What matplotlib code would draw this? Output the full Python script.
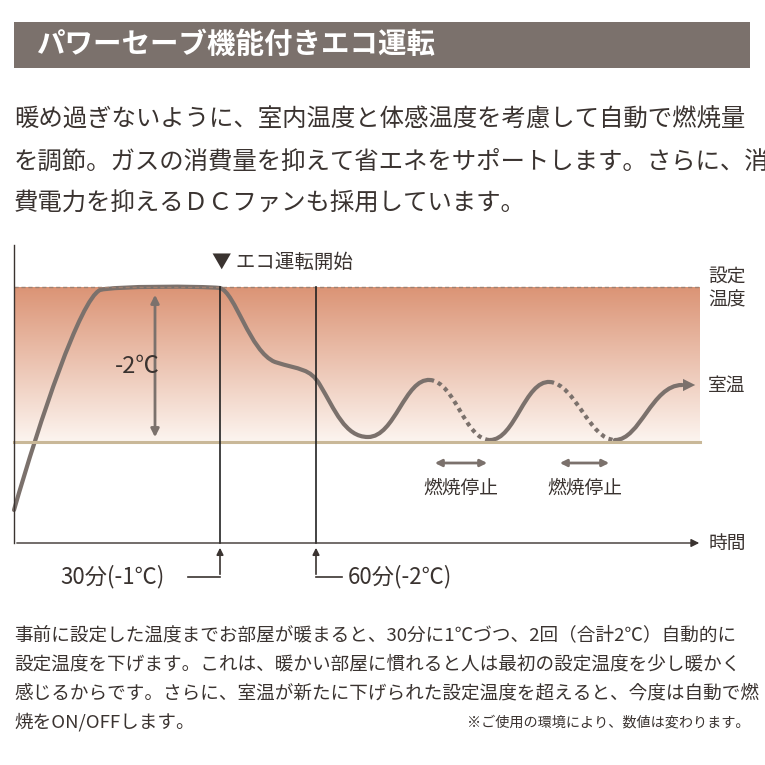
import matplotlib
matplotlib.use("Agg")
import matplotlib.pyplot as plt
from matplotlib.path import Path
from matplotlib.patches import PathPatch, FancyArrowPatch, Rectangle
import numpy as np

plt.rcParams["font.family"] = "Noto Sans CJK JP"

title = "パワーセーブ機能付きエコ運転"
para = ["暖め過ぎないように、室内温度と体感温度を考慮して自動で燃焼量",
        "を調節。ガスの消費量を抑えて省エネをサポートします。さらに、消",
        "費電力を抑えるＤＣファンも採用しています。"]
foot = ["事前に設定した温度までお部屋が暖まると、30分に1℃づつ、2回（合計2℃）自動的に",
        "設定温度を下げます。これは、暖かい部屋に慣れると人は最初の設定温度を少し暖かく",
        "感じるからです。さらに、室温が新たに下げられた設定温度を超えると、今度は自動で燃",
        "焼をON/OFFします。"]
note = "※ご使用の環境により、数値は変わります。"
markers = ["30分(-1℃)", "60分(-2℃)"]
stop_label = "燃焼停止"

# curve segments (bezier control points)
curve_solid = [
    [(14,510),(40,420),(80,300),(100,290),(115,286),(200,286),(220,288),
     (235,292),(250,352),(275,362),(300,370),(310,368),(320,385),
     (335,410),(345,437),(368,437),(395,437),(405,378),(430,380)],
    [(490,440),(515,440),(525,380),(550,382)],
    [(615,440),(640,440),(652,385),(682,385)],
]
curve_dotted = [
    [(430,380),(455,382),(465,440),(490,440)],
    [(550,382),(575,384),(590,440),(615,440)],
]

W = H = 765
fig = plt.figure(figsize=(7.65, 7.65), dpi=100)
ax = fig.add_axes([0, 0, 1, 1])
ax.set_xlim(0, W); ax.set_ylim(H, 0); ax.axis("off")

line_c = "#7b716c"
text_c = "#3a3330"

ax.add_patch(Rectangle((14, 22), 736, 46, color="#7b716c", lw=0))
ax.text(36, 45, title, color="white", fontsize=20.5, fontweight="bold", va="center")
for i, s in enumerate(para):
    ax.text(14, 120 + i * 42, s, color=text_c, fontsize=17.6, va="center")

grad = np.linspace(0, 1, 256)[:, None]
top = np.array([0.86, 0.58, 0.46]); bot = np.array([0.99, 0.96, 0.94])
img = top[None, None, :] * (1 - grad[..., None]) + bot[None, None, :] * grad[..., None]
ax.imshow(img, extent=[14, 700, 442, 287], aspect="auto", zorder=0)
ax.plot([14, 700], [287, 287], ls=(0, (3, 2)), color="#a08070", lw=1)
ax.plot([14, 700], [442, 442], color="#c9b898", lw=2.2)

ax.plot([14, 14], [245, 543], color=text_c, lw=1)
ax.annotate("", xy=(702, 543), xytext=(14, 543),
            arrowprops=dict(arrowstyle="-|>", color=text_c, lw=1, mutation_scale=12))
for x in (220, 316):
    ax.plot([x, x], [287, 543], color="#222", lw=1.2)

def bez(pts):
    codes = [Path.MOVETO] + [Path.CURVE4] * (len(pts) - 1)
    return Path(pts, codes)

for seg in curve_solid:
    ax.add_patch(PathPatch(bez(seg), fill=False, color=line_c, lw=3, capstyle="round"))
for seg in curve_dotted:
    ax.add_patch(PathPatch(bez(seg), fill=False, color=line_c, lw=3, ls=(0, (1, 1))))
ax.add_patch(FancyArrowPatch((678, 385), (698, 385), arrowstyle="-|>",
                             mutation_scale=22, color=line_c, lw=0))

ax.annotate("", xy=(155, 292), xytext=(155, 440),
            arrowprops=dict(arrowstyle="<|-|>", color=line_c, lw=2, mutation_scale=12))
ax.text(115, 366, "-2℃", color=text_c, fontsize=17, va="center")
ax.text(212, 262, "▼ エコ運転開始", color=text_c, fontsize=14, va="center")
ax.text(727, 288, "設定\n温度", color=text_c, fontsize=13.5, va="center", ha="center", linespacing=1.2)
ax.text(727, 385, "室温", color=text_c, fontsize=13.5, va="center", ha="center")
ax.text(727, 543, "時間", color=text_c, fontsize=13.5, va="center", ha="center")

for x0, x1 in ((432, 490), (557, 612)):
    ax.annotate("", xy=(x0, 463), xytext=(x1, 463),
                arrowprops=dict(arrowstyle="<|-|>", color=line_c, lw=2, mutation_scale=10))
    ax.text((x0 + x1) / 2, 488, stop_label, color=text_c, fontsize=13.5, ha="center", va="center")

ax.text(60, 577, markers[0], color=text_c, fontsize=16, va="center")
ax.plot([188, 220], [577, 577], color=text_c, lw=1.2)
ax.annotate("", xy=(220, 545), xytext=(220, 577),
            arrowprops=dict(arrowstyle="-|>", color=text_c, lw=1.2, mutation_scale=10))
ax.annotate("", xy=(316, 545), xytext=(316, 577),
            arrowprops=dict(arrowstyle="-|>", color=text_c, lw=1.2, mutation_scale=10))
ax.plot([316, 342], [577, 577], color=text_c, lw=1.2)
ax.text(348, 577, markers[1], color=text_c, fontsize=16, va="center")

for i, s in enumerate(foot):
    ax.text(14, 635 + i * 29, s, color=text_c, fontsize=13.4, va="center")
ax.text(750, 722, note, color=text_c, fontsize=10.2, ha="right", va="center")

fig.savefig("out.png", dpi=100)
